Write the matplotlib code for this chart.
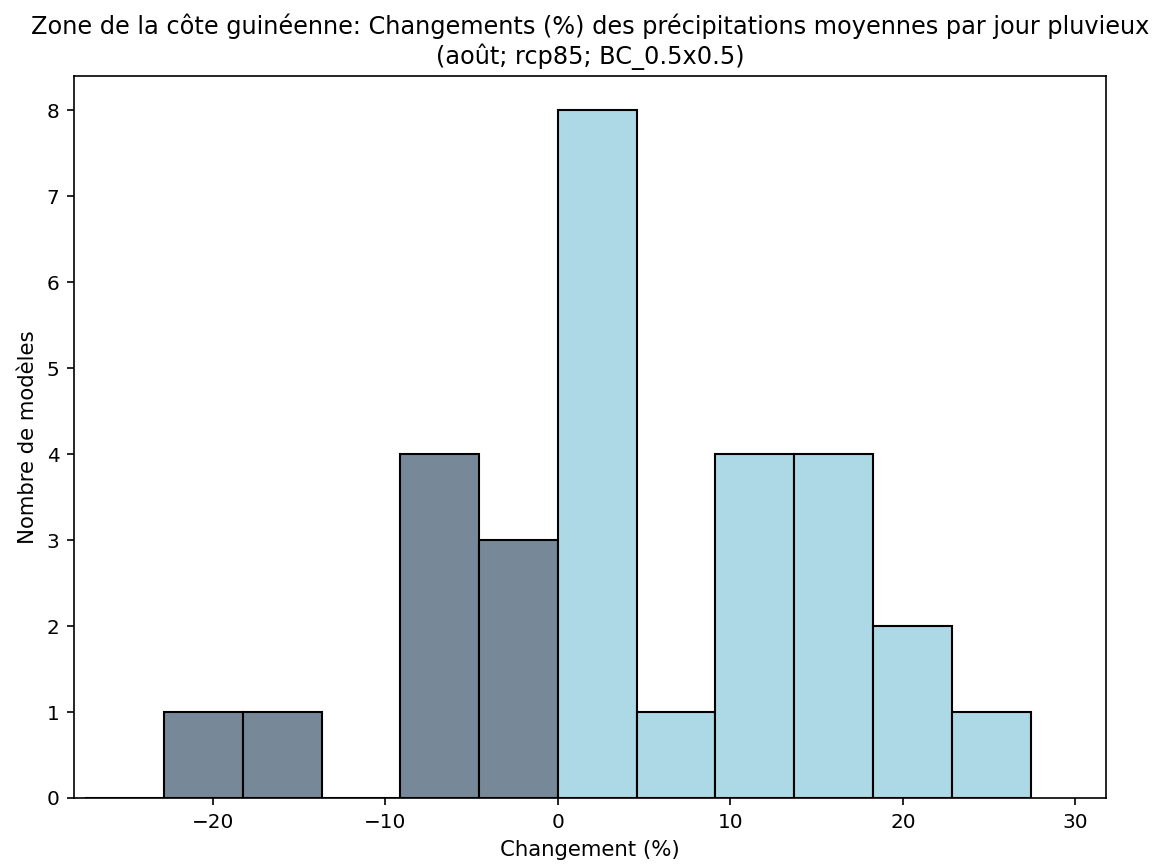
import numpy as np
import matplotlib
matplotlib.use("Agg")
import matplotlib.pyplot as plt

# ── data ───────────────────────────────────────────────────────────────────
BIN_EDGES = np.linspace(-27.4, 27.4, 13)
COUNTS = [0, 1, 1, 0, 4, 3, 8, 1, 4, 4, 2, 1]

NEG_COLOR = "#778899"   # lightslategray
POS_COLOR = "#ADD8E6"   # lightblue

TITLE = ("Zone de la côte guinéenne: Changements (%) des précipitations moyennes par jour pluvieux\n"
         "(août; rcp85; BC_0.5x0.5)")


def main():
    fig = plt.figure(figsize=(1158 / 150, 867 / 150), dpi=150)
    ax = fig.add_axes([0.0639, 0.0796, 0.8911, 0.8327])

    left = BIN_EDGES[:-1]
    widths = np.diff(BIN_EDGES)
    colors = [NEG_COLOR if l < 0 else POS_COLOR for l in left]
    ax.bar(left, COUNTS, width=widths, align="edge", color=colors,
           edgecolor="black", linewidth=1.0)

    ax.set_xlim(-28.06, 31.77)
    ax.set_ylim(0, 8.4)
    ax.set_xticks([-20, -10, 0, 10, 20, 30])
    ax.tick_params(labelsize=9.6)
    ax.set_title(TITLE, fontsize=11.5)
    ax.set_xlabel("Changement (%)", fontsize=10.2)
    ax.set_ylabel("Nombre de modèles", fontsize=10.2)

    fig.savefig("out.png", dpi=150)


if __name__ == "__main__":
    main()
